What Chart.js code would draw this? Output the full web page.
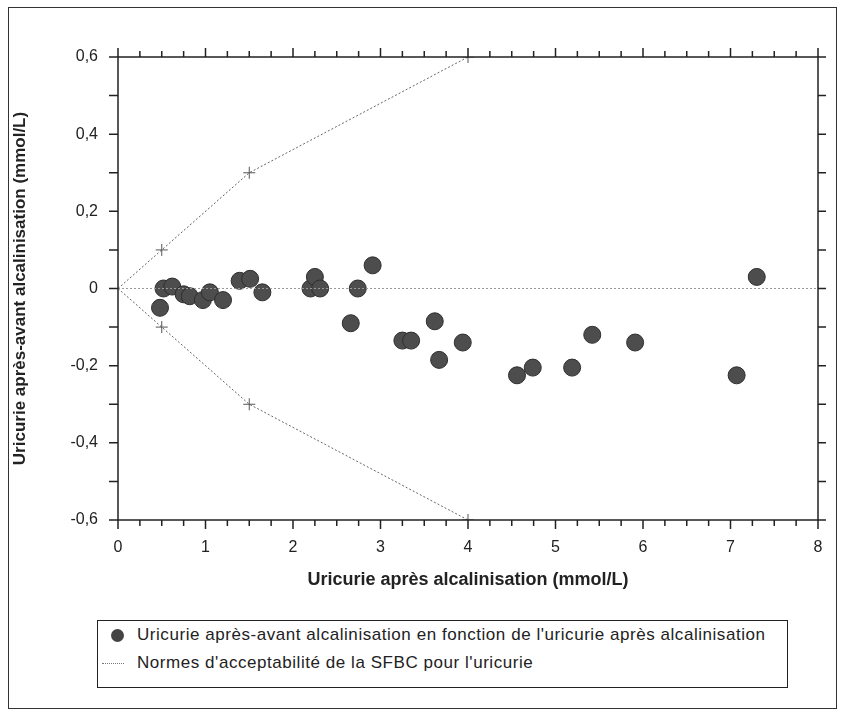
<!DOCTYPE html>
<html>
<head>
<meta charset="utf-8">
<script src="https://cdn.jsdelivr.net/npm/chart.js@4"></script>
<style>
  body { margin: 0; background: #fff; font-family: "Liberation Sans", Arial, sans-serif; }
  #page { position: relative; width: 845px; height: 716px; }
  #frame { position: absolute; left: 8px; top: 7px; width: 829px; height: 702px; border: 1px solid #333; box-sizing: border-box; }
  #wrap { position: absolute; left: 0; top: 0; width: 845px; height: 600px; }
  #legend { position: absolute; left: 97px; top: 620px; width: 691px; height: 68px; border: 1.5px solid #222; box-sizing: border-box; color: #222; font-size: 17px; letter-spacing: 0.55px; }
  .row { position: absolute; left: 0; height: 20px; line-height: 20px; white-space: nowrap; }
  .dot { position: absolute; left: 13px; top: 4px; width: 13px; height: 13px; border-radius: 50%; background: #444; }
  .dash { position: absolute; left: 4px; top: 10px; width: 22px; border-top: 1px dotted #777; }
  .txt { position: absolute; left: 39px; top: 0; }
</style>
</head>
<body>
<div id="page">
  <div id="frame"></div>
  <div id="wrap"><canvas id="c" width="845" height="600"></canvas></div>
  <div id="legend">
    <div class="row" style="top:4px"><span class="dot"></span><span class="txt">Uricurie après-avant alcalinisation en fonction de l'uricurie après alcalinisation</span></div>
    <div class="row" style="top:32px"><span class="dash"></span><span class="txt">Normes d'acceptabilité de la SFBC pour l'uricurie</span></div>
  </div>
</div>
<script>
// uricurie après alcalinisation (x) / différence après-avant (y)
const apres = [0.48, 0.52, 0.62, 0.75, 0.82, 0.97, 1.05, 1.2, 1.39, 1.51, 1.65,
  2.2, 2.25, 2.31, 2.66, 2.74, 2.91, 3.25, 3.35, 3.62, 3.67, 3.94,
  4.56, 4.74, 5.19, 5.42, 5.91, 7.07, 7.3];
const diff = [-0.05, 0, 0.005, -0.015, -0.02, -0.03, -0.01, -0.03, 0.02, 0.025, -0.01,
  0, 0.03, 0, -0.09, 0, 0.06, -0.135, -0.135, -0.085, -0.185, -0.14,
  -0.225, -0.205, -0.205, -0.12, -0.14, -0.225, 0.03];

// normes SFBC
const normeX = [0, 0.5, 1.5, 4];
const normeHaut = [0, 0.1, 0.3, 0.6];
const normeBas = [0, -0.1, -0.3, -0.6];

const zeroX = [0, 8];
const zeroY = [0, 0];

const xTicks = [0, 1, 2, 3, 4, 5, 6, 7, 8];
const yTicks = [-0.6, -0.4, -0.2, 0, 0.2, 0.4, 0.6];

const toPts = (xs, ys) => xs.map((x, i) => ({ x, y: ys[i] }));
const fmtY = v => (Math.abs(v) < 1e-9 ? "0" : v.toFixed(1).replace(".", ","));
const fmtX = v => String(Math.round(v));

// cadre + petites graduations sur les 4 côtés
const frameTicks = {
  id: "frameTicks",
  afterDatasetsDraw(chart) {
    const { ctx, chartArea: a, scales: { x, y } } = chart;
    ctx.save();
    ctx.strokeStyle = "#222";
    ctx.lineWidth = 1.5;
    ctx.strokeRect(a.left, a.top, a.right - a.left, a.bottom - a.top);
    ctx.beginPath();
    for (let i = 0; i <= 32; i++) {
      const px = x.getPixelForValue(i * 0.25);
      const len = i % 4 === 0 ? 9 : 6;
      ctx.moveTo(px, a.bottom); ctx.lineTo(px, a.bottom + len);
      ctx.moveTo(px, a.top); ctx.lineTo(px, a.top - len);
    }
    for (let i = -6; i <= 6; i++) {
      const py = y.getPixelForValue(i / 10);
      ctx.moveTo(a.left - 9, py); ctx.lineTo(a.left, py);
      ctx.moveTo(a.right, py); ctx.lineTo(a.right + 8, py);
    }
    ctx.stroke();
    ctx.restore();
  }
};

const lineStyle = {
  type: "line",
  borderColor: "#666",
  borderWidth: 1,
  borderDash: [2, 2],
  fill: false,
  tension: 0,
  pointStyle: "cross",
  pointBorderColor: "#555",
  pointBorderWidth: 1
};

new Chart(document.getElementById("c"), {
  type: "scatter",
  data: {
    datasets: [
      { ...lineStyle, label: "zero", data: toPts(zeroX, zeroY), pointRadius: 0, borderColor: "#999" },
      { ...lineStyle, label: "haut", data: toPts(normeX, normeHaut), pointRadius: [0, 6, 6, 6] },
      { ...lineStyle, label: "bas", data: toPts(normeX, normeBas), pointRadius: [0, 6, 6, 6] },
      {
        label: "points",
        data: toPts(apres, diff),
        pointRadius: 8.5,
        backgroundColor: "#4d4d4d",
        borderColor: "#2e2e2e",
        borderWidth: 1
      }
    ]
  },
  options: {
    responsive: false,
    devicePixelRatio: 1,
    animation: false,
    layout: { padding: { left: 10, top: 57, right: 27, bottom: 0 } },
    plugins: { legend: { display: false }, tooltip: { enabled: false } },
    scales: {
      x: {
        type: "linear", min: 0, max: 8,
        afterFit: s => { s.height = 80; },
        afterBuildTicks: s => { s.ticks = xTicks.map(v => ({ value: v })); },
        grid: { display: false, drawTicks: false },
        border: { display: false },
        ticks: { padding: 18, color: "#222", font: { family: "Liberation Sans", size: 16 }, maxRotation: 0, callback: v => fmtX(v) },
        title: { display: true, text: "Uricurie après alcalinisation (mmol/L)", color: "#222",
          font: { family: "Liberation Sans", size: 18, weight: "bold" }, padding: { top: 0, bottom: 9 } }
      },
      y: {
        type: "linear", min: -0.6, max: 0.6,
        afterFit: s => { s.width = 108; },
        afterBuildTicks: s => { s.ticks = yTicks.map(v => ({ value: v })); },
        grid: { display: false, drawTicks: false },
        border: { display: false },
        ticks: { padding: 20, color: "#222", font: { family: "Liberation Sans", size: 16 }, callback: v => fmtY(v) },
        title: { display: true, text: "Uricurie après-avant alcalinisation (mmol/L)", color: "#222",
          font: { family: "Liberation Sans", size: 17, weight: "bold" }, padding: { top: 0, bottom: 0 } }
      }
    }
  },
  plugins: [frameTicks]
});
</script>
</body>
</html>
